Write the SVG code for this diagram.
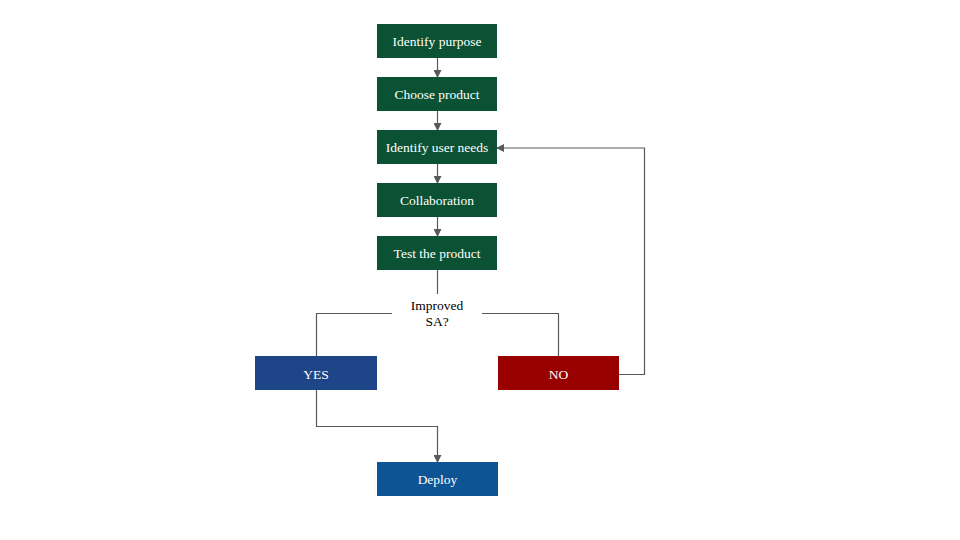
<svg xmlns="http://www.w3.org/2000/svg" width="960" height="540" viewBox="0 0 960 540">
<style>
.g{fill:#0A5233}
.t{font-family:"Liberation Serif","Times New Roman",serif;font-size:13.5px;fill:#fff;text-anchor:middle}
.d{font-family:"Liberation Serif","Times New Roman",serif;font-size:13.5px;fill:#000;text-anchor:middle}
.c{fill:none;stroke:#595959;stroke-width:1.2}
</style>
<defs>
<marker id="a" markerWidth="8" markerHeight="8" refX="7" refY="4" orient="auto" markerUnits="userSpaceOnUse">
<path d="M0,0 L8,4 L0,8 Z" fill="#595959"/>
</marker>
</defs>
<rect width="960" height="540" fill="#fff"/>
<g id="connectors">
<path class="c" d="M437.5,58 V77" marker-end="url(#a)"/>
<path class="c" d="M437.5,111 V130" marker-end="url(#a)"/>
<path class="c" d="M437.5,164 V183" marker-end="url(#a)"/>
<path class="c" d="M437.5,217 V236" marker-end="url(#a)"/>
<path class="c" d="M437.5,270 V294"/>
<path class="c" d="M392,313.5 H316.5 V356"/>
<path class="c" d="M482,313.5 H558.5 V356"/>
<path class="c" d="M619,374.5 H644.5 V148 H497" marker-end="url(#a)"/>
<path class="c" d="M316.5,390 V426.5 H437.5 V462" marker-end="url(#a)"/>
</g>
<g id="n1"><rect class="g" x="377" y="24" width="120" height="34"/><text class="t" x="437" y="46">Identify purpose</text></g>
<g id="n2"><rect class="g" x="377" y="77" width="120" height="34"/><text class="t" x="437" y="99">Choose product</text></g>
<g id="n3"><rect class="g" x="377" y="130" width="120" height="34"/><text class="t" x="437" y="152">Identify user needs</text></g>
<g id="n4"><rect class="g" x="377" y="183" width="120" height="34"/><text class="t" x="437" y="205">Collaboration</text></g>
<g id="n5"><rect class="g" x="377" y="236" width="120" height="34"/><text class="t" x="437" y="258">Test the product</text></g>
<g id="decision"><text class="d" x="437" y="310">Improved</text><text class="d" x="437" y="326">SA?</text></g>
<g id="yes"><rect fill="#1D4587" x="255" y="356" width="122" height="34"/><text class="t" x="316" y="379">YES</text></g>
<g id="no"><rect fill="#990000" x="498" y="356" width="121" height="34"/><text class="t" x="558.5" y="379">NO</text></g>
<g id="deploy"><rect fill="#0E5494" x="377" y="462" width="121" height="34"/><text class="t" x="437.5" y="484">Deploy</text></g>
</svg>
